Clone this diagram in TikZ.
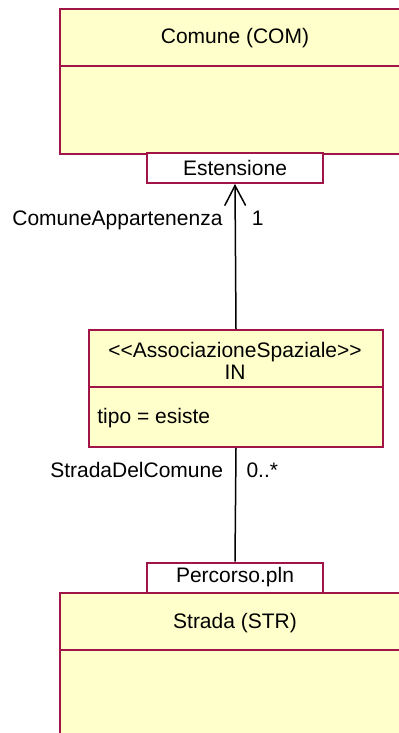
\documentclass[tikz,border=0pt]{standalone}
\usepackage{fontspec}
\setmainfont{Liberation Sans}
\usepackage{tikz}
\usetikzlibrary{arrows.meta,positioning}
\definecolor{classfill}{RGB}{255,255,204}
\definecolor{classborder}{RGB}{160,20,72}
\newcommand{\ltsign}{\mbox{<}}
\newcommand{\gtsign}{\mbox{>}}

\begin{document}
\begin{tikzpicture}[
    x=0.5pt, y=-0.5pt,
    font=\fontsize{10.5}{11}\selectfont,
    classbox/.style={rectangle, draw=classborder, fill=classfill, line width=1pt, anchor=north west, inner sep=0pt},
    rolebox/.style={rectangle, draw=classborder, fill=white, line width=1pt, minimum width=88pt, minimum height=15pt, inner sep=0pt},
    divider/.style={draw=classborder, line width=1pt},
    assoc/.style={line width=0.75pt, black},
    rolelabel/.style={inner sep=0pt, text height=1.6ex, text depth=0.3ex}
]
\useasboundingbox (0,0) rectangle (399,733);
\clip (0,0) rectangle (399,733);

% classi
\node[classbox, minimum width=176pt, minimum height=72.5pt] (COM) at (59,8) {};
\draw[divider] (59,66) -- (411,66);
\node (COMname) at (235,38) {Comune (COM)};
\node[rolebox] (estCOM) at (235,168) {Estensione};

\node[classbox, minimum width=147pt, minimum height=58.5pt] (IN) at (88,329) {};
\draw[divider] (88,387) -- (382,387);
\node[align=center] (INname) at (235,361) {\ltsign\ltsign AssociazioneSpaziale\gtsign\gtsign\\IN};
\node[anchor=west, inner sep=0pt] (INattr) at (97,418) {tipo = esiste};

\node[classbox, minimum width=176pt, minimum height=110pt] (STR) at (59,592) {};
\draw[divider] (59,650) -- (411,650);
\node (STRname) at (235,623) {Strada (STR)};
\node[rolebox] (pcrSTR) at (235,577.5) {Percorso.pln};

% associazioni
\draw[assoc, -{Straight Barb[length=10pt, width=10.5pt, line width=0.75pt]}] (IN.north) -- (estCOM.south)
    node[rolelabel, pos=0.76, left=6pt] {ComuneAppartenenza}
    node[rolelabel, pos=0.76, right=8pt] {1};
\draw[assoc] (IN.south) -- (pcrSTR.north)
    node[rolelabel, pos=0.2, left=6pt] {StradaDelComune}
    node[rolelabel, pos=0.2, right=5pt] {0..*};
\end{tikzpicture}
\end{document}
